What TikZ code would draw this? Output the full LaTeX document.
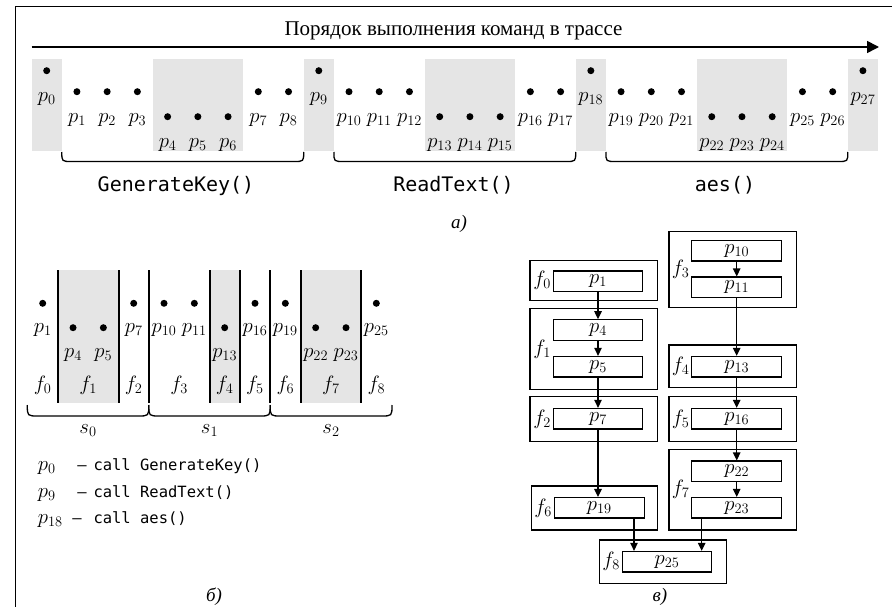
\documentclass[tikz,border=0pt]{standalone}
\usepackage{fontspec}
\setmainfont{Liberation Serif}
\newfontfamily\codefont{DejaVu Sans Mono}
\usetikzlibrary{arrows.meta}
% larger sub-scripts for the point labels
\DeclareMathSizes{20}{20}{15}{11}

\tikzset{
  band/.style={fill=gray!20, draw=none},
  pdot/.style={circle, fill=black, inner sep=0pt, minimum size=7pt},
  mlabel/.style={anchor=base, inner sep=0pt, font=\fontsize{20}{22}\selectfont},
  code/.style={anchor=base, inner sep=0pt, font=\codefont\fontsize{20}{22}\selectfont},
  legend/.style={anchor=base west, inner sep=0pt, font=\codefont\fontsize{15.5}{18}\selectfont},
  caption/.style={anchor=base, inner sep=0pt, font=\itshape\fontsize{19}{22}\selectfont},
  brace/.style={line width=1.3pt},
  sep/.style={line width=2pt},
  outerbox/.style={draw, line width=1.2pt, rectangle, inner sep=0pt},
  innerbox/.style={draw, line width=1.2pt, rectangle, inner sep=0pt,
    minimum width=89.4pt, minimum height=20.5pt, font=\fontsize{20}{22}\selectfont},
  flabel/.style={anchor=east, inner sep=0pt, font=\fontsize{20}{22}\selectfont},
  arr/.style={-{Triangle[length=8pt,width=7.5pt]}, line width=1.2pt},
}

\begin{document}
\begin{tikzpicture}[x=1pt,y=-1pt]
\useasboundingbox (0,0) rectangle (892,607);

% outer frame (top and left edges)
\draw[line width=1pt] (15,607) -- (15,7) -- (892,7);

% ---------------- part (a): execution order of the trace ----------------
\node[anchor=base, inner sep=0pt, font=\fontsize{21}{24}\selectfont] (title) at (453.5,36)
  {Порядок выполнения команд в трассе};
\coordinate (tstart) at (31.6,47);
\coordinate (tend) at (879,47);
\draw[line width=1.6pt, -{Triangle[length=12pt,width=12pt]}] (tstart) -- (tend);

% shaded call points and callee bodies
\fill[band] (31.6,59) rectangle (61.8,151);
\fill[band] (152.5,59) rectangle (243.2,151);
\fill[band] (303.7,59) rectangle (333.9,151);
\fill[band] (424.6,59) rectangle (515.3,151);
\fill[band] (575.7,59) rectangle (605.9,151);
\fill[band] (696.7,59) rectangle (787.3,151);
\fill[band] (847.8,59) rectangle (878.0,151);

% trace points p0 ... p27
\foreach \i/\yy in {0/70.7,1/91.7,2/91.7,3/91.7,4/116.7,5/116.7,6/116.7,7/91.7,8/91.7,
  9/70.7,10/91.7,11/91.7,12/91.7,13/116.7,14/116.7,15/116.7,16/91.7,17/91.7,
  18/70.7,19/91.7,20/91.7,21/91.7,22/116.7,23/116.7,24/116.7,25/91.7,26/91.7,27/70.7} {
  \node[pdot] (a\i) at ({46.7+30.23*\i},\yy) {};
  \node[mlabel] (la\i) at ({46.7+30.23*\i},{\yy+30.5}) {$p_{\i}$};
}

% braces below the function bodies
\foreach \xa/\xb in {61.8/303.7, 333.9/575.7, 605.9/847.8} {
  \draw[brace] (\xa,152) .. controls (\xa,161.5) .. ({\xa+10},161.5)
    -- ({\xb-10},161.5) .. controls (\xb,161.5) .. (\xb,152);
}
\node[code] (fn1) at (176,192) {GenerateKey()};
\node[code] (fn2) at (453.5,192) {ReadText()};
\node[code] (fn3) at (725,192) {aes()};
\node[caption] (capa) at (459,228) {а)};

% ---------------- part (b): fragments and segments ----------------
\fill[band] (57.9,270) rectangle (118.5,403.3);
\fill[band] (209.5,270) rectangle (239.9,403.3);
\fill[band] (300.5,270) rectangle (361.2,403.3);
\foreach \xx in {57.9,118.5,148.8,209.5,239.9,270.2,300.5,361.2} {
  \draw[sep] (\xx,270) -- (\xx,403.3);
}
\foreach \k/\n/\yy in {0/1/303.3,1/4/327.7,2/5/327.7,3/7/303.3,4/10/303.3,5/11/303.3,
  6/13/327.7,7/16/303.3,8/19/303.3,9/22/327.7,10/23/327.7,11/25/303.3} {
  \node[pdot] (b\n) at ({42.7+30.33*\k},\yy) {};
  \node[mlabel] (lb\n) at ({42.7+30.33*\k},{\yy+29.5}) {$p_{\n}$};
}
\foreach \j/\xx in {0/42.7,1/88.2,2/133.7,3/179.2,4/224.7,5/255.0,6/285.3,7/330.9,8/376.3} {
  \node[mlabel] (fb\j) at (\xx,390) {$f_{\j}$};
}
\foreach \xa/\xb in {27.3/148.8, 148.8/270.2, 270.2/392} {
  \draw[brace] (\xa,405) .. controls (\xa,416) .. ({\xa+11},416)
    -- ({\xb-11},416) .. controls (\xb,416) .. (\xb,405);
}
\node[mlabel] (s0) at (88,433) {$s_{0}$};
\node[mlabel] (s1) at (209.5,433) {$s_{1}$};
\node[mlabel] (s2) at (331,433) {$s_{2}$};

% call points legend
\node[mlabel, anchor=base west] (lg0) at (37.7,470) {$p_{0}$};
\node[legend, anchor=base] (dg0) at (82,470) {–};
\node[legend] (tg0) at (93.3,470) {call GenerateKey()};
\node[mlabel, anchor=base west] (lg1) at (37.7,497) {$p_{9}$};
\node[legend, anchor=base] (dg1) at (82,497) {–};
\node[legend] (tg1) at (93.3,497) {call ReadText()};
\node[mlabel, anchor=base west] (lg2) at (37.7,523) {$p_{18}$};
\node[legend, anchor=base] (dg2) at (77,523) {–};
\node[legend] (tg2) at (93.3,523) {call aes()};
\node[caption] (capb) at (214,601) {б)};

% ---------------- part (c): fragment graph ----------------
% fragments
\node[outerbox, minimum width=127.3pt, minimum height=40pt]   (F0) at (593.65,280.7) {};
\node[outerbox, minimum width=127.3pt, minimum height=80.6pt] (F1) at (593.65,349.0) {};
\node[outerbox, minimum width=127.3pt, minimum height=44.6pt] (F2) at (593.65,419.0) {};
\node[outerbox, minimum width=125.6pt, minimum height=44pt]   (F6) at (594.5,508.0) {};
\node[outerbox, minimum width=127.4pt, minimum height=43.3pt] (F8) at (663.0,561.65) {};
\node[outerbox, minimum width=127.7pt, minimum height=75.6pt] (F3) at (732.85,269.5) {};
\node[outerbox, minimum width=127.7pt, minimum height=42.7pt] (F4) at (732.85,366.35) {};
\node[outerbox, minimum width=127.7pt, minimum height=44.6pt] (F5) at (732.85,419.0) {};
\node[outerbox, minimum width=127.7pt, minimum height=80.7pt] (F7) at (732.85,489.65) {};

% trace points inside the fragments
\node[innerbox] (q1)  at (598,281.3)   {$p_{1}$};
\node[innerbox] (q4)  at (598,330)     {$p_{4}$};
\node[innerbox] (q5)  at (598,366.7)   {$p_{5}$};
\node[innerbox] (q7)  at (598,418.7)   {$p_{7}$};
\node[innerbox, minimum width=90pt] (q19) at (599.3,507.8) {$p_{19}$};
\node[innerbox] (q25) at (667,561.7)   {$p_{25}$};
\node[innerbox, minimum width=90pt] (q10) at (736.7,250.8) {$p_{10}$};
\node[innerbox, minimum width=90pt] (q11) at (736.7,287.3) {$p_{11}$};
\node[innerbox, minimum width=90pt] (q13) at (736.7,366.7) {$p_{13}$};
\node[innerbox, minimum width=90pt] (q16) at (736.7,418.7) {$p_{16}$};
\node[innerbox, minimum width=90pt] (q22) at (736.7,471.3) {$p_{22}$};
\node[innerbox, minimum width=90pt] (q23) at (736.7,507.8) {$p_{23}$};

% fragment names
\node[flabel] (nf0) at ([xshift=-1.5pt]q1.west |- F0.center) {$f_{0}$};
\node[flabel] (nf1) at ([xshift=-1.5pt]q4.west |- F1.center) {$f_{1}$};
\node[flabel] (nf2) at ([xshift=-1.5pt]q7.west |- F2.center) {$f_{2}$};
\node[flabel] (nf6) at ([xshift=-1.5pt]q19.west |- F6.center) {$f_{6}$};
\node[flabel] (nf8) at ([xshift=-1.5pt]q25.west |- F8.center) {$f_{8}$};
\node[flabel] (nf3) at ([xshift=-1.5pt]q10.west |- F3.center) {$f_{3}$};
\node[flabel] (nf4) at ([xshift=-1.5pt]q13.west |- F4.center) {$f_{4}$};
\node[flabel] (nf5) at ([xshift=-1.5pt]q16.west |- F5.center) {$f_{5}$};
\node[flabel] (nf7) at ([xshift=-1.5pt]q22.west |- F7.center) {$f_{7}$};

% control flow edges
\draw[arr] (q1.south) -- (q4.north);
\draw[arr] (q4.south) -- (q5.north);
\draw[arr] (q5.south) -- (q7.north);
\draw[arr] (q7.south) -- (q7.south |- q19.north);
\draw[arr] ([xshift=34.7pt]q19.south) -- ([xshift=34.7pt]q19.south |- q25.north);
\draw[arr] (q10.south) -- (q11.north);
\draw[arr] (q11.south) -- (q13.north);
\draw[arr] (q13.south) -- (q16.north);
\draw[arr] (q16.south) -- (q22.north);
\draw[arr] (q22.south) -- (q23.north);
\draw[arr] ([xshift=-35pt]q23.south) -- ([xshift=-35pt]q23.south |- q25.north);

\node[caption] (capc) at (660,601) {в)};
\end{tikzpicture}
\end{document}
